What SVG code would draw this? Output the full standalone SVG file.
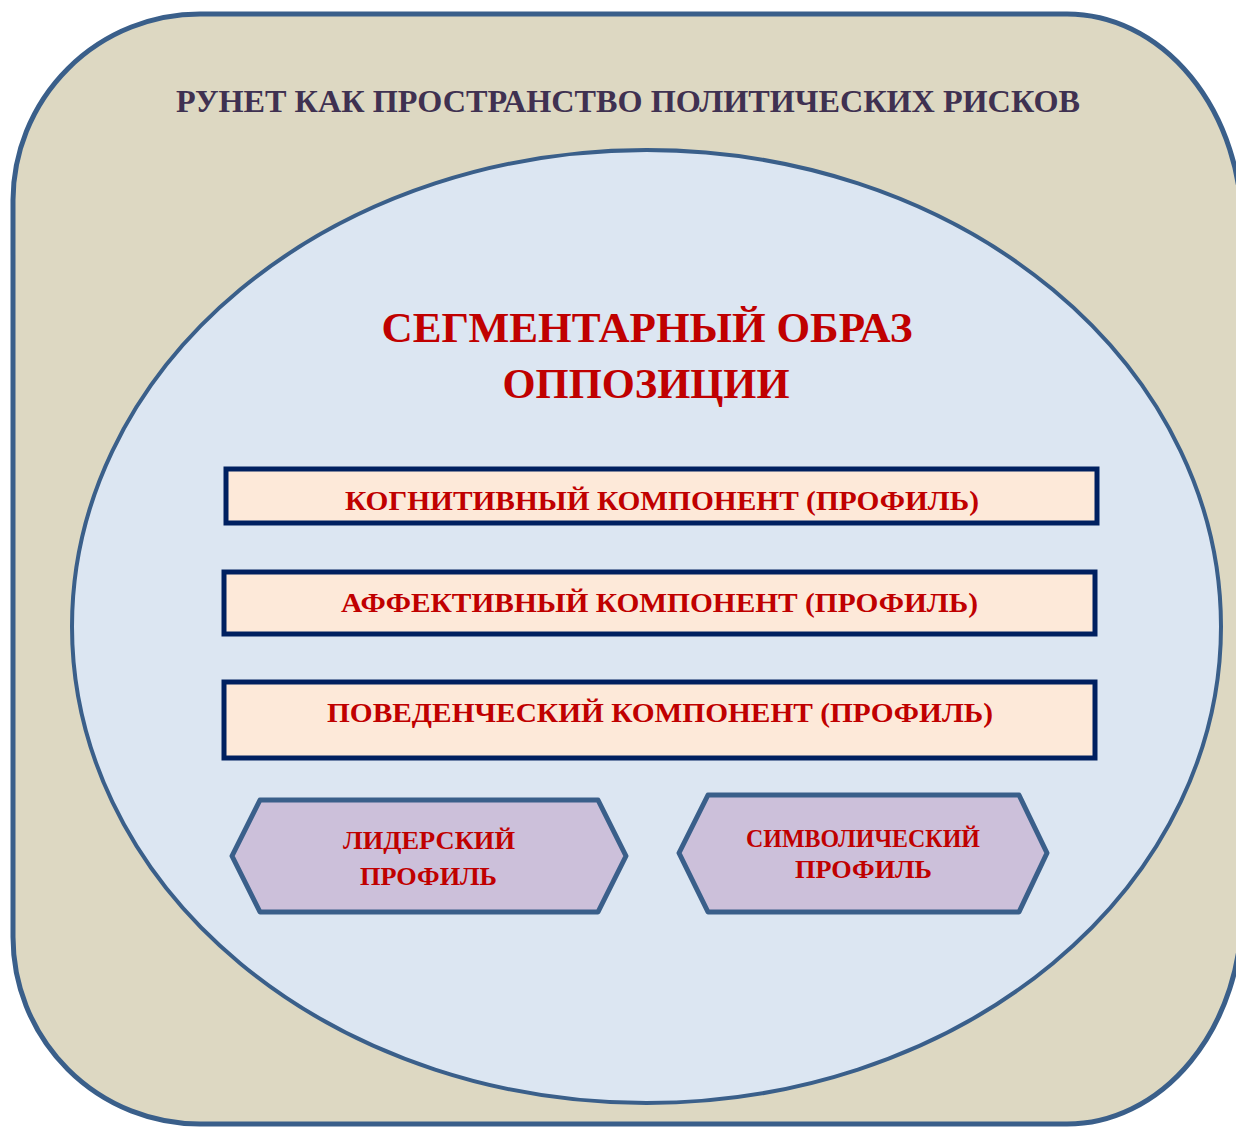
<svg xmlns="http://www.w3.org/2000/svg" width="1236" height="1127" viewBox="0 0 1236 1127">
<style>
.t{font-family:"Liberation Serif","Times New Roman",serif;font-weight:bold;text-anchor:middle}
.title{fill:#3f3151;font-size:31px}
.red{fill:#c00000}
.big{font-size:43px}
.bar{fill:#fde9d9;stroke:#002060;stroke-width:5}
.hex{fill:#ccc0da;stroke:#3a5f8a;stroke-width:5;stroke-linejoin:round}
.bt{font-size:28px}
.ht{font-size:25px}
</style>
<g id="outer">
<path d="M200,14 H1067 A175 214 0 0 1 1242 228 V910 A175 214 0 0 1 1067 1124 H200 A187 187 0 0 1 13 937 V200 A187 187 0 0 1 200 14 Z" fill="#ddd8c2" stroke="#3a5f8a" stroke-width="5"/>
<text class="t title" x="628" y="112" textLength="904" lengthAdjust="spacingAndGlyphs">РУНЕТ КАК ПРОСТРАНСТВО ПОЛИТИЧЕСКИХ РИСКОВ</text>
</g>
<g id="circle">
<ellipse cx="646.5" cy="626.5" rx="574.5" ry="476.5" fill="#dce6f2" stroke="#3a5f8a" stroke-width="4"/>
<text class="t red big" x="647" y="342" textLength="531" lengthAdjust="spacingAndGlyphs">СЕГМЕНТАРНЫЙ ОБРАЗ</text>
<text class="t red big" x="646" y="398" textLength="287" lengthAdjust="spacingAndGlyphs">ОППОЗИЦИИ</text>
</g>
<g id="cognitive">
<rect class="bar" x="226" y="469" width="871" height="54"/>
<text class="t red bt" x="662" y="510" textLength="634" lengthAdjust="spacingAndGlyphs">КОГНИТИВНЫЙ КОМПОНЕНТ (ПРОФИЛЬ)</text>
</g>
<g id="affective">
<rect class="bar" x="224" y="572" width="871" height="62"/>
<text class="t red bt" x="659.5" y="612" textLength="637" lengthAdjust="spacingAndGlyphs">АФФЕКТИВНЫЙ КОМПОНЕНТ (ПРОФИЛЬ)</text>
</g>
<g id="behavioral">
<rect class="bar" x="224" y="682" width="871" height="76"/>
<text class="t red bt" x="660" y="722" textLength="666" lengthAdjust="spacingAndGlyphs">ПОВЕДЕНЧЕСКИЙ КОМПОНЕНТ (ПРОФИЛЬ)</text>
</g>
<g id="leader">
<polygon class="hex" points="232,856 260,800 598,800 626,856 598,912 260,912"/>
<text class="t red ht" x="429" y="849" textLength="172" lengthAdjust="spacingAndGlyphs">ЛИДЕРСКИЙ</text>
<text class="t red ht" x="428.5" y="885" textLength="137" lengthAdjust="spacingAndGlyphs">ПРОФИЛЬ</text>
</g>
<g id="symbolic">
<polygon class="hex" points="679,853 708,795 1019,795 1047,853 1019,912 708,912"/>
<text class="t red ht" x="863" y="847" textLength="234" lengthAdjust="spacingAndGlyphs">СИМВОЛИЧЕСКИЙ</text>
<text class="t red ht" x="863.5" y="878" textLength="137" lengthAdjust="spacingAndGlyphs">ПРОФИЛЬ</text>
</g>
<g id="connectors"/>
</svg>
